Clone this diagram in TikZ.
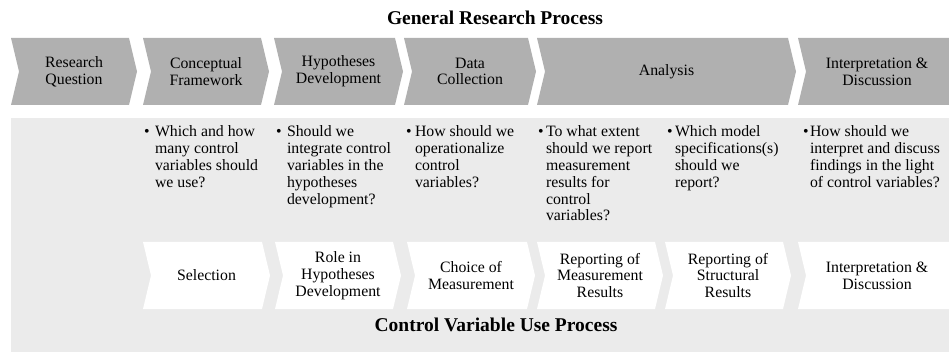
\documentclass[tikz,border=0pt]{standalone}
\usepackage{fontspec}
\setmainfont{Liberation Serif}
\definecolor{chevgray}{RGB}{176,176,176}
\definecolor{boxgray}{RGB}{235,235,235}
% chevron: left x, right x, top y, bottom y, colour
\newcommand\chevshape[5]{%
  \fill[#5] (#1,#3) -- (#2,#3) -- ({#2+8},{(#3+#4)/2}) -- (#2,#4) -- (#1,#4) -- ({#1+8},{(#3+#4)/2}) -- cycle;}
\begin{document}
\begin{tikzpicture}[x=1pt,y=-1pt,
  every node/.style={inner sep=0pt, outer sep=0pt},
  bodyfont/.style={font=\fontsize{15.8}{16.8}\selectfont},
  chevtext/.style={bodyfont, align=center},
  qtext/.style={bodyfont, align=left, anchor=north west},
  bul/.style={bodyfont, anchor=base west},
  titletext/.style={font=\fontsize{19.5}{21}\selectfont\bfseries}]
\useasboundingbox (0,0) rectangle (949,352);
% gray panel
\fill[boxgray] (11,118) rectangle (990,360);
% top chevrons
\chevshape{11}{129}{38}{105}{chevgray}
\chevshape{143}{261}{38}{105}{chevgray}
\chevshape{274}{395}{38}{105}{chevgray}
\chevshape{404}{528}{38}{105}{chevgray}
\chevshape{537}{788}{38}{105}{chevgray}
\chevshape{798}{965}{38}{105}{chevgray}
% bottom chevrons
\chevshape{143}{262}{242}{309}{white}
\chevshape{275}{393}{242}{309}{white}
\chevshape{407}{527}{242}{309}{white}
\chevshape{537}{655}{242}{309}{white}
\chevshape{665}{783}{242}{309}{white}
\chevshape{798}{965}{242}{309}{white}
% titles
\node[titletext] (t1) at (495,18) {General Research Process};
\node[titletext] (t2) at (496,324.5) {Control Variable Use Process};
% top labels
\node[chevtext] (g1) at (74,71.5) {Research\\Question};
\node[chevtext] (g2) at (206,71.5) {Conceptual\\Framework};
\node[chevtext] (g3) at (338.5,71.5) {Hypotheses\\Development};
\node[chevtext] (g4) at (470,71.5) {Data\\Collection};
\node[chevtext] (g5) at (666.5,71.5) {Analysis};
\node[chevtext] (g6) at (877,71.5) {Interpretation \&\\Discussion};
% questions
\node[bul] (b1) at (144,137) {•};
\node[qtext] (q1) at (155,126) {Which and how\\many control\\variables should\\we use?};
\node[bul] (b2) at (276,137) {•};
\node[qtext] (q2) at (287,126) {Should we\\integrate control\\variables in the\\hypotheses\\development?};
\node[bul] (b3) at (406,137) {•};
\node[qtext] (q3) at (415,126) {How should we\\operationalize\\control\\variables?};
\node[bul] (b4) at (538,137) {•};
\node[qtext] (q4) at (546,126) {To what extent\\should we report\\measurement\\results for\\control\\variables?};
\node[bul] (b5) at (667,137) {•};
\node[qtext] (q5) at (675,126) {Which model\\specifications(s)\\should we\\report?};
\node[bul] (b6) at (803,137) {•};
\node[qtext] (q6) at (810,126) {How should we\\interpret and discuss\\findings in the light\\of control variables?};
% bottom labels
\node[chevtext] (c1) at (206.5,275.5) {Selection};
\node[chevtext] (c2) at (338,275.5) {Role in\\Hypotheses\\Development};
\node[chevtext] (c3) at (471,275.5) {Choice of\\Measurement};
\node[chevtext] (c4) at (600,275.5) {Reporting of\\Measurement\\Results};
\node[chevtext] (c5) at (728,275.5) {Reporting of\\Structural\\Results};
\node[chevtext] (c6) at (877,275.5) {Interpretation \&\\Discussion};
\end{tikzpicture}
\end{document}
